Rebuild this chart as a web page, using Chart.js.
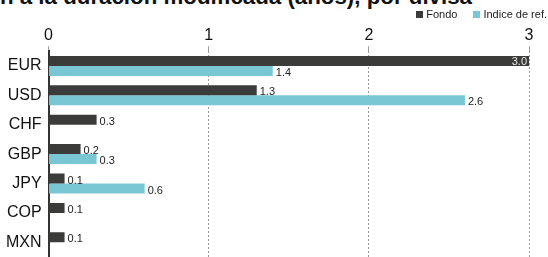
<!DOCTYPE html>
<html>
<head>
<meta charset="utf-8">
<script src="https://cdn.jsdelivr.net/npm/chart.js@4.4.1/dist/chart.umd.min.js"></script>
<style>
  html, body { margin: 0; padding: 0; background: #fff; overflow: hidden; }
  #wrap { position: relative; width: 548px; height: 257px; overflow: hidden; font-family: "Liberation Sans", Arial, sans-serif; }
  #title {
    position: absolute; right: 76px; top: -16px; white-space: nowrap;
    font-weight: bold; font-size: 22.3px; color: #111;
  }
  #legend { position: absolute; right: 1px; top: 8px; font-size: 11px; color: #222; white-space: nowrap; }
  #legend span.item { margin-left: 16px; }
  #legend i { display: inline-block; width: 7px; height: 7px; margin-right: 3px; vertical-align: 0px; }
  canvas { position: absolute; left: 0; top: 0; }
</style>
</head>
<body>
<div id="wrap">
  <div id="title">Contribución a la duración modificada (años), por divisa</div>
  <canvas id="chart" width="548" height="257"></canvas>
  <div id="legend"></div>
</div>
<script>
const categories = ['EUR', 'USD', 'CHF', 'GBP', 'JPY', 'COP', 'MXN'];
const fondo = [3.0, 1.3, 0.3, 0.2, 0.1, 0.1, 0.1];
const indice = [1.4, 2.6, null, 0.3, 0.6, null, null];
const xTicks = [0, 1, 2, 3];
const seriesNames = ['Fondo', 'Indice de ref.'];
const seriesColors = ['#3b3c39', '#79c6d5'];

const FONT = '"Liberation Sans", Arial, sans-serif';

// value labels at the end of each bar
const valueLabels = {
    id: 'valueLabels',
    afterDatasetsDraw(chart) {
        const ctx = chart.ctx;
        const area = chart.chartArea;
        ctx.save();
        ctx.font = '11px ' + FONT;
        ctx.textBaseline = 'middle';
        chart.data.datasets.forEach((ds, i) => {
            const meta = chart.getDatasetMeta(i);
            meta.data.forEach((bar, j) => {
                const v = ds.data[j];
                if (v === null || v === undefined) return;
                const txt = v.toFixed(1);
                const w = ctx.measureText(txt).width;
                if (bar.x + w + 4 > area.right) {
                    ctx.fillStyle = '#e6e6e6';
                    ctx.textAlign = 'right';
                    ctx.fillText(txt, bar.x - 2, bar.y + 1);
                } else {
                    ctx.fillStyle = '#222';
                    ctx.textAlign = 'left';
                    ctx.fillText(txt, bar.x + 3, bar.y + 2);
                }
            });
        });
        ctx.restore();
    }
};

const chart = new Chart(document.getElementById('chart'), {
    type: 'bar',
    data: {
        labels: categories,
        datasets: [
            { label: seriesNames[0], data: fondo, backgroundColor: seriesColors[0] },
            { label: seriesNames[1], data: indice, backgroundColor: seriesColors[1] }
        ]
    },
    options: {
        indexAxis: 'y',
        responsive: false,
        animation: false,
        layout: { padding: { left: -1, top: 25, right: 0, bottom: 0 } },
        datasets: { bar: { barPercentage: 1, categoryPercentage: 0.68 } },
        plugins: {
            legend: { display: false },
            tooltip: { enabled: false }
        },
        scales: {
            x: {
                position: 'top',
                min: 0, max: 3,
                afterBuildTicks: (s) => { s.ticks = xTicks.map(v => ({ value: v })); },
                afterFit: (s) => { s.paddingRight = 19; s.paddingLeft = 0; },
                ticks: {
                    color: '#111', padding: 1,
                    font: { size: 16, family: FONT }
                },
                grid: {
                    color: (c) => c.tick && c.tick.value === 0 ? 'rgba(0,0,0,0)' : '#9a9a9a',
                    lineWidth: 1,
                    tickLength: 5,
                    tickColor: '#9a9a9a'
                },
                border: { display: false, dash: [2, 2] }
            },
            y: {
                grid: { display: false, drawTicks: false },
                afterFit: (s) => { s.paddingTop = 0; s.paddingBottom = 0; },
                ticks: {
                    color: '#111', padding: 7,
                    font: { size: 16, family: FONT }
                },
                border: { display: true, color: '#333', width: 2 }
            }
        }
    },
    plugins: [valueLabels]
});

// legend built from the dataset names/colours
document.getElementById('legend').innerHTML = chart.data.datasets.map(ds =>
    `<span class="item"><i style="background:${ds.backgroundColor}"></i>${ds.label}</span>`
).join('');
</script>
</body>
</html>
